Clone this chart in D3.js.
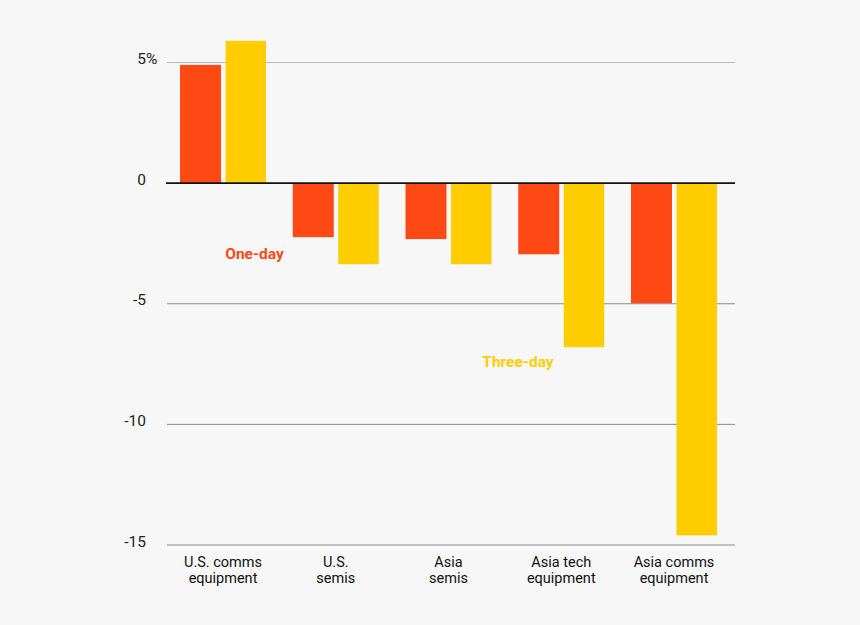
<!DOCTYPE html>
<html><head><meta charset="utf-8">
<script src="https://cdn.jsdelivr.net/npm/d3@7"></script>
<style>html,body{margin:0;padding:0;background:#f7f7f7;}svg{display:block;}</style>
</head><body>
<script>
const categories = [["U.S. comms","equipment"],["U.S.","semis"],["Asia","semis"],["Asia tech","equipment"],["Asia comms","equipment"]];
const oneDay = [4.9, -2.24, -2.32, -2.95, -4.98];
const threeDay = [5.9, -3.36, -3.36, -6.8, -14.6];
const yTicks = [5, 0, -5, -10, -15];
const yTickLabels = ["5", "0", "-5", "-10", "-15"];
const yTickSuffix = ["%", "", "", "", ""];

const W = 860, H = 625;
const svg = d3.select("body").append("svg").attr("width", W).attr("height", H);
svg.append("rect").attr("width", W).attr("height", H).attr("fill", "#f7f7f7");

const y = d3.scaleLinear().domain([5, -15]).range([62.5, 545]);
const x = d3.scaleBand().domain(d3.range(categories.length)).range([167, 730.75]).paddingInner(0).paddingOuter(0);
const orangeC = "#ff4914", yellowC = "#ffcd00";
const fontF = "Roboto, 'Noto Sans', sans-serif";

// gridlines
yTicks.forEach((t, i) => {
  if (t === 0) return;
  svg.append("line").attr("x1", 167).attr("x2", 735).attr("y1", y(t)).attr("y2", y(t))
    .attr("stroke", t === 5 ? "#b8b8b8" : "#8a8a8a").attr("stroke-width", 1);
});
// tick labels
yTicks.forEach((t, i) => {
  svg.append("text").attr("x", 146).attr("y", y(t) + 1.5).attr("text-anchor", "end")
    .attr("font-family", fontF).attr("font-size", 15.5).attr("fill", "#222").text(yTickLabels[i]);
  if (yTickSuffix[i]) {
    svg.append("text").attr("x", 146).attr("y", y(t) + 1.5).attr("text-anchor", "start")
      .attr("font-family", fontF).attr("font-size", 15.5).attr("fill", "#222").text(yTickSuffix[i]);
  }
});

const bw = 41, gap = 4.5, off = 13;
categories.forEach((c, i) => {
  const x0 = x(i) + off;
  svg.append("rect").attr("x", x0).attr("width", bw)
    .attr("y", y(Math.max(0, oneDay[i]))).attr("height", Math.abs(y(oneDay[i]) - y(0)))
    .attr("fill", orangeC);
  svg.append("rect").attr("x", x0 + bw + gap).attr("width", bw - 0.5)
    .attr("y", y(Math.max(0, threeDay[i]))).attr("height", Math.abs(y(threeDay[i]) - y(0)))
    .attr("fill", yellowC);
  const t = svg.append("text").attr("text-anchor", "middle").attr("font-family", fontF)
    .attr("font-size", 14.5).attr("fill", "#111");
  c.forEach((line, j) => {
    t.append("tspan").attr("x", x0 + 43).attr("y", 567 + j * 16).text(line);
  });
});

// zero line
svg.append("line").attr("x1", 166).attr("x2", 735).attr("y1", y(0)).attr("y2", y(0))
  .attr("stroke", "#111").attr("stroke-width", 1.6);

// series labels
svg.append("text").attr("x", 254.5).attr("y", 258.5).attr("text-anchor", "middle")
  .attr("font-family", fontF).attr("font-weight", "bold").attr("font-size", 15.5)
  .attr("fill", orangeC).text("One-day");
svg.append("text").attr("x", 518).attr("y", 366.5).attr("text-anchor", "middle")
  .attr("font-family", fontF).attr("font-weight", "bold").attr("font-size", 15.5)
  .attr("fill", yellowC).text("Three-day");
</script>
</body></html>
